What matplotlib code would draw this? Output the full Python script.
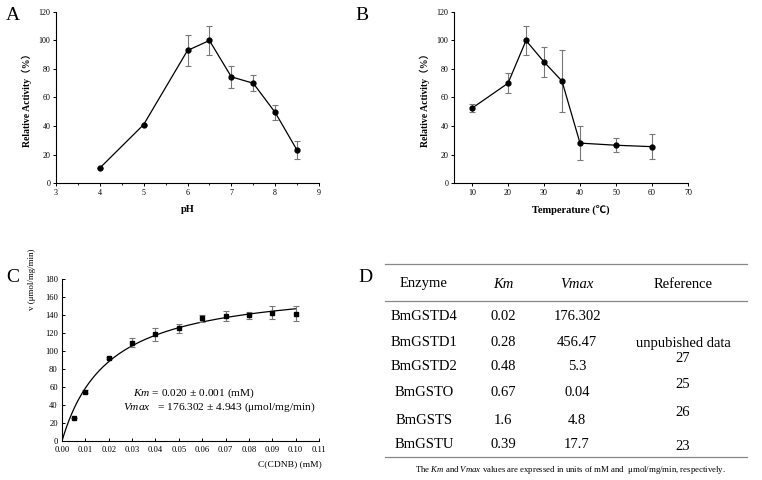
import numpy as np
import matplotlib
matplotlib.use("Agg")
import matplotlib.pyplot as plt
from matplotlib.lines import Line2D

plt.rcParams['font.family'] = ['Liberation Serif', 'Noto Sans CJK SC', 'DejaVu Sans']
plt.rcParams['mathtext.fontset'] = 'custom'
plt.rcParams['mathtext.rm'] = 'Liberation Serif'
plt.rcParams['mathtext.it'] = 'Liberation Serif:italic'

# ---- Data ----
ph = [4, 5, 6, 6.5, 7, 7.5, 8, 8.5]
ph_act = [10.5, 41, 93, 100, 74.5, 70, 49.5, 23]
ph_err = [0, 0, 11, 10, 7.5, 5.5, 5.5, 6.5]

temp = [10, 20, 25, 30, 35, 40, 50, 60]
temp_act = [52.5, 70, 100, 85, 71.5, 28, 26.5, 25.5]
temp_err = [3, 7, 10, 10.5, 22, 12, 5, 8.7]

cdnb = [0.005, 0.01, 0.02, 0.03, 0.04, 0.05, 0.06, 0.07, 0.08, 0.09, 0.10]
rate = [25.5, 55, 92.5, 109, 118.5, 125.5, 136.5, 139, 139.5, 142.5, 141.5]
rate_err = [0, 2, 1, 5, 7, 5, 4, 6, 4, 7, 8.5]
km_fit = 0.020
vmax_fit = 176.302

enzymes = ["BmGSTD4", "BmGSTD1", "BmGSTD2", "BmGSTO", "BmGSTS", "BmGSTU"]
km_vals = ["0.02", "0.28", "0.48", "0.67", "1.6", "0.39"]
vmax_vals = ["176.302", "456.47", "5.3", "0.04", "4.8", "17.7"]
refs = ["", "unpubished data", "27", "25", "26", "23"]

W, H = 762, 480
fig = plt.figure(figsize=(W / 100, H / 100), dpi=100)


def ax_px(l, r, t, b):
    return fig.add_axes([l / W, 1 - b / H, (r - l) / W, (b - t) / H])


def fpos(x, y):
    return x / W, 1 - y / H


def style(ax, size=5, direction='out'):
    for s in ['top', 'right']:
        ax.spines[s].set_visible(False)
    for s in ['left', 'bottom']:
        ax.spines[s].set_linewidth(0.8)
    ax.tick_params(labelsize=size, direction=direction, length=2.5, width=0.7, pad=1.5)
    ax.tick_params(which='minor', direction=direction, length=1.5, width=0.6)


ekw = dict(ecolor='#777777', elinewidth=0.8, capsize=2.5, capthick=0.8)

# ---- Panel A ----
axA = ax_px(56, 319, 12, 183)
axA.errorbar(ph, ph_act, yerr=ph_err, fmt='-o', color='black', lw=0.9, ms=3.5, **ekw)
axA.set_xlim(3, 9)
axA.set_ylim(0, 120)
axA.set_xticks(range(3, 10))
axA.set_xticks(np.arange(3.5, 9, 1), minor=True)
axA.set_yticks(range(0, 121, 20))
style(axA, size=5.8)
axA.set_xlabel('pH', fontsize=7.5, fontweight='bold', labelpad=6)
axA.set_ylabel('Relative Activity（%）', fontsize=7, fontweight='bold', labelpad=5)

# ---- Panel B ----
axB = ax_px(454, 688, 12, 183)
axB.errorbar(temp, temp_act, yerr=temp_err, fmt='-o', color='black', lw=0.9, ms=3.5, **ekw)
axB.set_xlim(5, 70)
axB.set_ylim(0, 120)
axB.set_xticks(range(10, 71, 10))
axB.set_yticks(range(0, 121, 20))
style(axB, size=5.8)
axB.set_xlabel('Temperature (℃)', fontsize=7.5, fontweight='bold', labelpad=6)
axB.set_ylabel('Relative Activity（%）', fontsize=7, fontweight='bold', labelpad=5)

# ---- Panel C ----
axC = ax_px(62, 319, 279, 441)
xs = np.linspace(0, 0.10, 200)
axC.plot(xs, vmax_fit * xs / (km_fit + xs), color='black', lw=0.9)
axC.errorbar(cdnb, rate, yerr=rate_err, fmt='s', color='black', ms=3.3, **ekw)
axC.set_xlim(0, 0.11)
axC.set_ylim(0, 180)
axC.set_xticks(np.round(np.arange(0, 0.111, 0.01), 2))
axC.set_xticklabels([f"{v:.2f}" for v in np.arange(0, 0.111, 0.01)])
axC.set_yticks(range(0, 181, 20))
style(axC, size=6.2, direction='in')
axC.tick_params(axis='y', pad=3)
axC.tick_params(axis='x', pad=3.5)
axC.text(-0.115, 1.0, 'v (μmol/mg/min)', transform=axC.transAxes, rotation=90,
         ha='center', va='center', fontsize=6.5)
axC.text(1.01, -0.12, 'C(CDNB) (mM)', transform=axC.transAxes, ha='right', va='top', fontsize=6.8)
axC.text(0.0304, 53.5, r'$\it{Km}$ = 0.020 ± 0.001 (mM)', fontsize=8.2, ha='left', va='center')
axC.text(0.0261, 37, r'$\it{Vmax}$   = 176.302 ± 4.943 (μmol/mg/min)', fontsize=8.2, ha='left', va='center')

# ---- Panel letters ----
for lab, (x, y) in zip("ABCD", [(13, 16), (362, 16), (13, 277), (365, 277)]):
    fig.text(*fpos(x, y), lab, fontsize=14, ha='center', va='center')

# ---- Panel D table ----
for y in [264, 301, 457]:
    fig.add_artist(Line2D([385 / W, 747 / W], [1 - y / H, 1 - y / H], color='#888888', lw=0.9))

col_x = [424, 503, 577, 683]
head_y = 284
fs = 10.5
fig.text(*fpos(col_x[0], head_y), 'Enzyme', fontsize=fs, ha='center', va='center')
fig.text(*fpos(col_x[1], head_y), 'Km', fontsize=fs, ha='center', va='center', style='italic')
fig.text(*fpos(col_x[2], head_y), 'Vmax', fontsize=fs, ha='center', va='center', style='italic')
fig.text(*fpos(col_x[3], head_y), 'Reference', fontsize=fs, ha='center', va='center')

row_y = [317, 343, 367, 393, 420, 445]
ref_dy = [0, 0, -9, -8, -8, 2]
for i in range(len(enzymes)):
    y = row_y[i]
    fig.text(*fpos(col_x[0], y), enzymes[i], fontsize=fs, ha='center', va='center')
    fig.text(*fpos(col_x[1], y), km_vals[i], fontsize=fs, ha='center', va='center')
    fig.text(*fpos(col_x[2], y), vmax_vals[i], fontsize=fs, ha='center', va='center')
    fig.text(*fpos(col_x[3], y + ref_dy[i]), refs[i], fontsize=fs, ha='center', va='center')

fig.text(*fpos(570, 470), r'The $\it{Km}$ and $\it{Vmax}$ values are expressed in units of mM and  μmol/mg/min, respectively.',
         fontsize=6.3, ha='center', va='center')

fig.savefig('out.png', dpi=100)
